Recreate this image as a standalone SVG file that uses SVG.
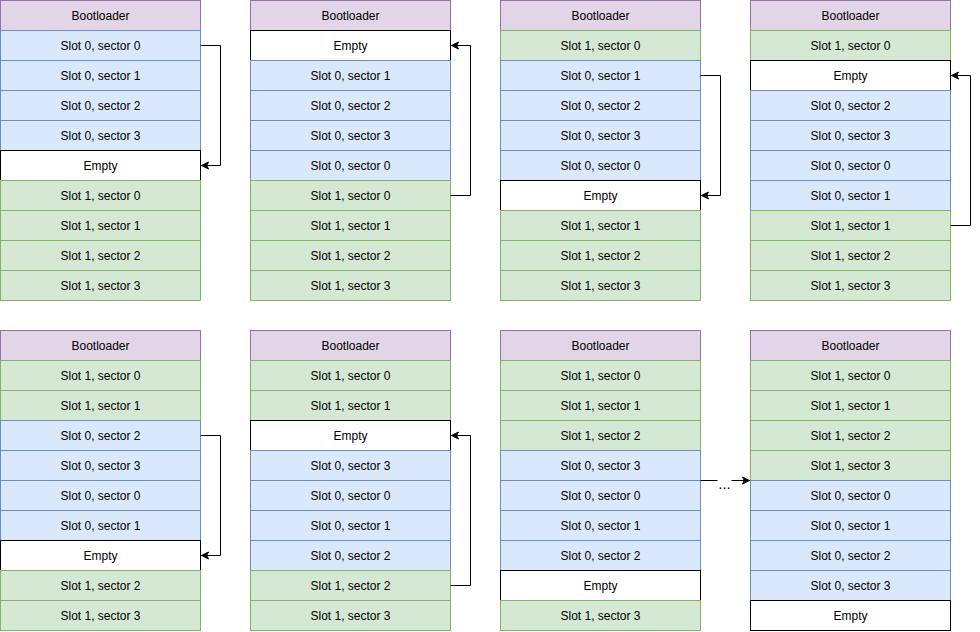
<svg xmlns="http://www.w3.org/2000/svg" width="980" height="632" viewBox="0 0 980 632">
<style>
rect{stroke-width:1}
.b{fill:#dae8fc;stroke:#6c8ebf}
.g{fill:#d5e8d4;stroke:#82b366}
.p{fill:#e1d5e7;stroke:#9673a6}
.e{fill:#ffffff;stroke:#000000}
text{font-family:"Liberation Sans",Arial,Helvetica,sans-serif;font-size:12px;fill:#000;text-anchor:middle}
.c{fill:none;stroke:#000;stroke-width:1}
.dots{font-size:15px}
</style>
<defs>
<marker id="ah" markerWidth="10" markerHeight="10" refX="8" refY="5" orient="auto" markerUnits="userSpaceOnUse">
<path d="M1,1.5 L8,5 L1,8.5 L2.8,5 Z" fill="#000" stroke="#000" stroke-width="1"/>
</marker>
</defs>
<rect width="980" height="632" fill="#ffffff"/>
<g transform="translate(0.5,0.5)">
<g id="colA">
<rect class="p" x="0" y="0" width="200" height="30"/><text x="100" y="19">Bootloader</text>
<rect class="b" x="0" y="30" width="200" height="30"/><text x="100" y="49">Slot 0, sector 0</text>
<rect class="b" x="0" y="60" width="200" height="30"/><text x="100" y="79">Slot 0, sector 1</text>
<rect class="b" x="0" y="90" width="200" height="30"/><text x="100" y="109">Slot 0, sector 2</text>
<rect class="b" x="0" y="120" width="200" height="30"/><text x="100" y="139">Slot 0, sector 3</text>
<rect class="e" x="0" y="150" width="200" height="30"/><text x="100" y="169">Empty</text>
<rect class="g" x="0" y="180" width="200" height="30"/><text x="100" y="199">Slot 1, sector 0</text>
<rect class="g" x="0" y="210" width="200" height="30"/><text x="100" y="229">Slot 1, sector 1</text>
<rect class="g" x="0" y="240" width="200" height="30"/><text x="100" y="259">Slot 1, sector 2</text>
<rect class="g" x="0" y="270" width="200" height="30"/><text x="100" y="289">Slot 1, sector 3</text>
</g>
<g id="colB">
<rect class="p" x="250" y="0" width="200" height="30"/><text x="350" y="19">Bootloader</text>
<rect class="e" x="250" y="30" width="200" height="30"/><text x="350" y="49">Empty</text>
<rect class="b" x="250" y="60" width="200" height="30"/><text x="350" y="79">Slot 0, sector 1</text>
<rect class="b" x="250" y="90" width="200" height="30"/><text x="350" y="109">Slot 0, sector 2</text>
<rect class="b" x="250" y="120" width="200" height="30"/><text x="350" y="139">Slot 0, sector 3</text>
<rect class="b" x="250" y="150" width="200" height="30"/><text x="350" y="169">Slot 0, sector 0</text>
<rect class="g" x="250" y="180" width="200" height="30"/><text x="350" y="199">Slot 1, sector 0</text>
<rect class="g" x="250" y="210" width="200" height="30"/><text x="350" y="229">Slot 1, sector 1</text>
<rect class="g" x="250" y="240" width="200" height="30"/><text x="350" y="259">Slot 1, sector 2</text>
<rect class="g" x="250" y="270" width="200" height="30"/><text x="350" y="289">Slot 1, sector 3</text>
</g>
<g id="colC">
<rect class="p" x="500" y="0" width="200" height="30"/><text x="600" y="19">Bootloader</text>
<rect class="g" x="500" y="30" width="200" height="30"/><text x="600" y="49">Slot 1, sector 0</text>
<rect class="b" x="500" y="60" width="200" height="30"/><text x="600" y="79">Slot 0, sector 1</text>
<rect class="b" x="500" y="90" width="200" height="30"/><text x="600" y="109">Slot 0, sector 2</text>
<rect class="b" x="500" y="120" width="200" height="30"/><text x="600" y="139">Slot 0, sector 3</text>
<rect class="b" x="500" y="150" width="200" height="30"/><text x="600" y="169">Slot 0, sector 0</text>
<rect class="e" x="500" y="180" width="200" height="30"/><text x="600" y="199">Empty</text>
<rect class="g" x="500" y="210" width="200" height="30"/><text x="600" y="229">Slot 1, sector 1</text>
<rect class="g" x="500" y="240" width="200" height="30"/><text x="600" y="259">Slot 1, sector 2</text>
<rect class="g" x="500" y="270" width="200" height="30"/><text x="600" y="289">Slot 1, sector 3</text>
</g>
<g id="colD">
<rect class="p" x="750" y="0" width="200" height="30"/><text x="850" y="19">Bootloader</text>
<rect class="g" x="750" y="30" width="200" height="30"/><text x="850" y="49">Slot 1, sector 0</text>
<rect class="e" x="750" y="60" width="200" height="30"/><text x="850" y="79">Empty</text>
<rect class="b" x="750" y="90" width="200" height="30"/><text x="850" y="109">Slot 0, sector 2</text>
<rect class="b" x="750" y="120" width="200" height="30"/><text x="850" y="139">Slot 0, sector 3</text>
<rect class="b" x="750" y="150" width="200" height="30"/><text x="850" y="169">Slot 0, sector 0</text>
<rect class="b" x="750" y="180" width="200" height="30"/><text x="850" y="199">Slot 0, sector 1</text>
<rect class="g" x="750" y="210" width="200" height="30"/><text x="850" y="229">Slot 1, sector 1</text>
<rect class="g" x="750" y="240" width="200" height="30"/><text x="850" y="259">Slot 1, sector 2</text>
<rect class="g" x="750" y="270" width="200" height="30"/><text x="850" y="289">Slot 1, sector 3</text>
</g>
<g id="colE">
<rect class="p" x="0" y="330" width="200" height="30"/><text x="100" y="349">Bootloader</text>
<rect class="g" x="0" y="360" width="200" height="30"/><text x="100" y="379">Slot 1, sector 0</text>
<rect class="g" x="0" y="390" width="200" height="30"/><text x="100" y="409">Slot 1, sector 1</text>
<rect class="b" x="0" y="420" width="200" height="30"/><text x="100" y="439">Slot 0, sector 2</text>
<rect class="b" x="0" y="450" width="200" height="30"/><text x="100" y="469">Slot 0, sector 3</text>
<rect class="b" x="0" y="480" width="200" height="30"/><text x="100" y="499">Slot 0, sector 0</text>
<rect class="b" x="0" y="510" width="200" height="30"/><text x="100" y="529">Slot 0, sector 1</text>
<rect class="e" x="0" y="540" width="200" height="30"/><text x="100" y="559">Empty</text>
<rect class="g" x="0" y="570" width="200" height="30"/><text x="100" y="589">Slot 1, sector 2</text>
<rect class="g" x="0" y="600" width="200" height="30"/><text x="100" y="619">Slot 1, sector 3</text>
</g>
<g id="colF">
<rect class="p" x="250" y="330" width="200" height="30"/><text x="350" y="349">Bootloader</text>
<rect class="g" x="250" y="360" width="200" height="30"/><text x="350" y="379">Slot 1, sector 0</text>
<rect class="g" x="250" y="390" width="200" height="30"/><text x="350" y="409">Slot 1, sector 1</text>
<rect class="e" x="250" y="420" width="200" height="30"/><text x="350" y="439">Empty</text>
<rect class="b" x="250" y="450" width="200" height="30"/><text x="350" y="469">Slot 0, sector 3</text>
<rect class="b" x="250" y="480" width="200" height="30"/><text x="350" y="499">Slot 0, sector 0</text>
<rect class="b" x="250" y="510" width="200" height="30"/><text x="350" y="529">Slot 0, sector 1</text>
<rect class="b" x="250" y="540" width="200" height="30"/><text x="350" y="559">Slot 0, sector 2</text>
<rect class="g" x="250" y="570" width="200" height="30"/><text x="350" y="589">Slot 1, sector 2</text>
<rect class="g" x="250" y="600" width="200" height="30"/><text x="350" y="619">Slot 1, sector 3</text>
</g>
<g id="colG">
<rect class="p" x="500" y="330" width="200" height="30"/><text x="600" y="349">Bootloader</text>
<rect class="g" x="500" y="360" width="200" height="30"/><text x="600" y="379">Slot 1, sector 0</text>
<rect class="g" x="500" y="390" width="200" height="30"/><text x="600" y="409">Slot 1, sector 1</text>
<rect class="g" x="500" y="420" width="200" height="30"/><text x="600" y="439">Slot 1, sector 2</text>
<rect class="b" x="500" y="450" width="200" height="30"/><text x="600" y="469">Slot 0, sector 3</text>
<rect class="b" x="500" y="480" width="200" height="30"/><text x="600" y="499">Slot 0, sector 0</text>
<rect class="b" x="500" y="510" width="200" height="30"/><text x="600" y="529">Slot 0, sector 1</text>
<rect class="b" x="500" y="540" width="200" height="30"/><text x="600" y="559">Slot 0, sector 2</text>
<rect class="e" x="500" y="570" width="200" height="30"/><text x="600" y="589">Empty</text>
<rect class="g" x="500" y="600" width="200" height="30"/><text x="600" y="619">Slot 1, sector 3</text>
</g>
<g id="colH">
<rect class="p" x="750" y="330" width="200" height="30"/><text x="850" y="349">Bootloader</text>
<rect class="g" x="750" y="360" width="200" height="30"/><text x="850" y="379">Slot 1, sector 0</text>
<rect class="g" x="750" y="390" width="200" height="30"/><text x="850" y="409">Slot 1, sector 1</text>
<rect class="g" x="750" y="420" width="200" height="30"/><text x="850" y="439">Slot 1, sector 2</text>
<rect class="g" x="750" y="450" width="200" height="30"/><text x="850" y="469">Slot 1, sector 3</text>
<rect class="b" x="750" y="480" width="200" height="30"/><text x="850" y="499">Slot 0, sector 0</text>
<rect class="b" x="750" y="510" width="200" height="30"/><text x="850" y="529">Slot 0, sector 1</text>
<rect class="b" x="750" y="540" width="200" height="30"/><text x="850" y="559">Slot 0, sector 2</text>
<rect class="b" x="750" y="570" width="200" height="30"/><text x="850" y="589">Slot 0, sector 3</text>
<rect class="e" x="750" y="600" width="200" height="30"/><text x="850" y="619">Empty</text>
</g>
<g id="connectors">
<path class="c" d="M200,45 H220 V165 H201" marker-end="url(#ah)"/>
<path class="c" d="M450,195 H470 V45 H451" marker-end="url(#ah)"/>
<path class="c" d="M700,75 H720 V195 H701" marker-end="url(#ah)"/>
<path class="c" d="M950,225 H970 V75 H951" marker-end="url(#ah)"/>
<path class="c" d="M200,435 H220 V555 H201" marker-end="url(#ah)"/>
<path class="c" d="M450,585 H470 V435 H451" marker-end="url(#ah)"/>
<path class="c" d="M700,480 H717"/>
<path class="c" d="M731,480 H749" marker-end="url(#ah)"/>
<text class="dots" x="724" y="488">...</text>
</g>
</g>
</svg>
